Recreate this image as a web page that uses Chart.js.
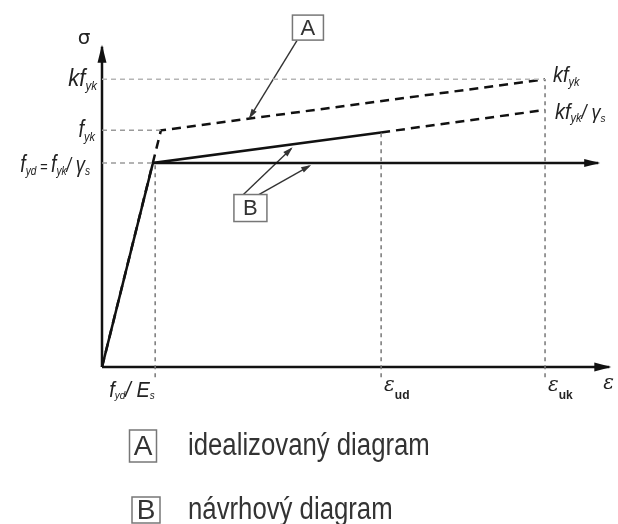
<!DOCTYPE html>
<html>
<head>
<meta charset="utf-8">
<script src="https://cdn.jsdelivr.net/npm/chart.js@4.4.0/dist/chart.umd.min.js"></script>
<style>
  html, body { margin: 0; padding: 0; background: #fff; }
  #wrap { width: 618px; height: 524px; }
</style>
</head>
<body>
<div id="wrap"><canvas id="chart"></canvas></div>
<script>
// values (drawing units: fyd = 1, strain arbitrary)
const idealStrain = [0, 1.33, 10];        // A - idealised diagram
const idealStress = [0, 1.16, 1.41];
const designStrain = [0, 1.15, 6.3];      // B - design diagram, inclined branch
const designStress = [0, 1.0, 1.15];
const designExtStrain = [6.3, 10];        // continuation up to eps_uk
const designExtStress = [1.15, 1.26];
const plateauStrain = [1.15, 11.2];       // B - horizontal branch
const plateauStress = [1.0, 1.0];

// tick positions and the points the guide lines run to
const strainTicks = [1.2, 6.3, 10];
const strainGuideTop = [1.0, 1.15, 1.41];
const stressTicks = [1.41, 1.16, 1.0];
const stressGuideEnd = [10, 1.38, 1.15];

// leader lines from the boxes to the curves
const leaderAStrain = [4.4, 3.34];
const leaderAStress = [1.6, 1.225];
const leaderB1Strain = [3.18, 4.27];
const leaderB1Stress = [0.843, 1.07];
const leaderB2Strain = [3.52, 4.68];
const leaderB2Stress = [0.843, 0.985];

const axisEnd = { x: 11.45, y: 1.57 };

function pts(xs, ys) {
    return xs.map(function(x, i) { return { x: x, y: ys[i] }; });
}

const datasets = [];

function addLine(xs, ys, opts) {
    datasets.push(Object.assign({
        data: pts(xs, ys),
        showLine: true,
        borderColor: '#111',
        borderWidth: 2.5,
        pointRadius: 0,
        fill: false,
        clip: false
    }, opts || {}));
}

// guides
stressTicks.forEach(function(s, i) {
    addLine([0, stressGuideEnd[i]], [s, s], {
        borderColor: i === 0 ? '#b5b5b5' : '#9a9a9a', borderWidth: 1.5, borderDash: [5, 4]
    });
});
strainTicks.forEach(function(e, i) {
    addLine([e, e], [-0.05, strainGuideTop[i]], {
        borderColor: '#777', borderWidth: 1.5, borderDash: [4, 4]
    });
});

// axes
addLine([0, axisEnd.x], [0, 0], { arrow: { len: 15, w: 4.5 } });
addLine([0, 0], [0, axisEnd.y], { arrow: { len: 16, w: 4.5 } });

// diagrams
addLine(idealStrain, idealStress, { borderDash: [9, 6] });
addLine(designStrain, designStress);
addLine(designExtStrain, designExtStress, { borderDash: [9, 6] });
addLine(plateauStrain, plateauStress, { arrow: { len: 14, w: 4 } });

// leaders
[[leaderAStrain, leaderAStress], [leaderB1Strain, leaderB1Stress], [leaderB2Strain, leaderB2Stress]]
    .forEach(function(l) {
        addLine(l[0], l[1], { borderColor: '#333', borderWidth: 1.4, arrow: { len: 8, w: 3 } });
    });

// draw a text made of parts: [text, font, dy]
function rich(ctx, x, y, parts, align, sx, sy) {
    sx = sx || 1; sy = sy || 1;
    let w = 0;
    parts.forEach(function(p) { ctx.font = p[1]; w += ctx.measureText(p[0]).width; });
    ctx.save();
    ctx.translate(x, y);
    ctx.scale(sx, sy);
    let cx = align === 'right' ? -w : (align === 'center' ? -w / 2 : 0);
    ctx.textAlign = 'left';
    ctx.textBaseline = 'alphabetic';
    parts.forEach(function(p) {
        ctx.font = p[1];
        ctx.fillText(p[0], cx, p[2] || 0);
        cx += ctx.measureText(p[0]).width;
    });
    ctx.restore();
}

function box(ctx, cx, cy, w, h, letter, size) {
    ctx.save();
    ctx.fillStyle = '#fff';
    ctx.fillRect(cx - w / 2, cy - h / 2, w, h);
    ctx.strokeStyle = '#777';
    ctx.lineWidth = 1.5;
    ctx.strokeRect(cx - w / 2, cy - h / 2, w, h);
    ctx.fillStyle = '#333';
    ctx.font = size + 'px "Liberation Sans"';
    ctx.textAlign = 'center';
    ctx.textBaseline = 'middle';
    ctx.fillText(letter, cx, cy + 1);
    ctx.restore();
}

const arrowPlugin = {
    id: 'arrows',
    afterDatasetsDraw(chart) {
        const ctx = chart.ctx;
        chart.data.datasets.forEach(function(ds, i) {
            if (!ds.arrow) return;
            const el = chart.getDatasetMeta(i).data;
            const a = el[el.length - 2], b = el[el.length - 1];
            const ang = Math.atan2(b.y - a.y, b.x - a.x);
            ctx.save();
            ctx.translate(b.x, b.y);
            ctx.rotate(ang);
            ctx.fillStyle = ds.borderColor;
            ctx.beginPath();
            ctx.moveTo(2, 0);
            ctx.lineTo(-ds.arrow.len, -ds.arrow.w);
            ctx.lineTo(-ds.arrow.len, ds.arrow.w);
            ctx.closePath();
            ctx.fill();
            ctx.restore();
        });
    }
};

const labelPlugin = {
    id: 'labels',
    afterDraw(chart) {
        const ctx = chart.ctx;
        const X = chart.scales.x, Y = chart.scales.y;
        const it = function(s) { return 'italic ' + s + 'px "Liberation Sans"'; };
        ctx.fillStyle = '#222';

        // sigma
        ctx.font = '20px "DejaVu Sans"';
        ctx.textAlign = 'center';
        ctx.fillText('σ', X.getPixelForValue(0) - 18, Y.getPixelForValue(axisEnd.y) - 3);

        // stress labels on the left
        const lx = X.getPixelForValue(0) - 5;
        rich(ctx, lx, Y.getPixelForValue(stressTicks[0]) + 7,
            [['k', it(21)], ['f', it(21)], ['yk', it(11), 3]], 'right', 1.05, 1.15);
        rich(ctx, lx - 2, Y.getPixelForValue(stressTicks[1]) + 7,
            [['f', it(20)], ['yk', it(11), 3]], 'right', 1, 1.15);
        rich(ctx, lx - 7, Y.getPixelForValue(stressTicks[2]) + 9,
            [['f', it(21)], ['yd', it(11), 3], [' = ', it(14)], ['f', it(21)], ['yk', it(11), 3],
             ['/ ', it(18)], ['γ', it(20)], ['s', it(11), 3]], 'right', 0.92, 1.15);

        // stress labels on the right
        const rx = X.getPixelForValue(strainTicks[2]) + 8;
        rich(ctx, rx, Y.getPixelForValue(stressTicks[0]) + 3,
            [['k', it(20)], ['f', it(20)], ['yk', it(11), 3]], 'left', 1, 1.1);
        rich(ctx, rx + 2, Y.getPixelForValue(designExtStress[1]) + 9,
            [['k', it(20)], ['f', it(20)], ['yk', it(11), 3], ['/ ', it(18)], ['γ', it(18)], ['s', it(10), 3]],
            'left', 1, 1.1);

        // strain labels
        const by = Y.getPixelForValue(0) + 30;
        rich(ctx, X.getPixelForValue(strainTicks[0]) - 46, by,
            [['f', it(20)], ['yd', it(10), 2], ['/ ', it(20)], ['E', it(20)], ['s', it(10), 2]], 'left', 1, 1.1);
        rich(ctx, X.getPixelForValue(strainTicks[1]) + 3, by - 6,
            [['ε', 'italic 20px "DejaVu Serif"'], ['ud', 'bold 12px "Liberation Sans"', 8]], 'left', 1, 1);
        rich(ctx, X.getPixelForValue(strainTicks[2]) + 3, by - 6,
            [['ε', 'italic 20px "DejaVu Serif"'], ['uk', 'bold 12px "Liberation Sans"', 8]], 'left', 1, 1);
        rich(ctx, X.getPixelForValue(axisEnd.x) - 6, by - 8,
            [['ε', 'italic 20px "DejaVu Serif"']], 'left', 1, 1);

        // boxes on the chart
        box(ctx, X.getPixelForValue(leaderAStrain[0]) + 11, Y.getPixelForValue(leaderAStress[0]) - 13, 31, 25, 'A', 22);
        box(ctx, X.getPixelForValue((leaderB1Strain[0] + leaderB2Strain[0]) / 2), Y.getPixelForValue(leaderB1Stress[0]) + 13, 33, 27, 'B', 22);

        // legend
        box(ctx, 143, 446, 27, 32, 'A', 28);
        box(ctx, 146, 510, 28, 26, 'B', 28);
        ctx.fillStyle = '#333';
        rich(ctx, 188, 455, [['idealizovaný diagram', '26px "Liberation Sans"']], 'left', 0.99, 1.2);
        rich(ctx, 188, 519, [['návrhový diagram', '26px "Liberation Sans"']], 'left', 0.99, 1.2);
    }
};

new Chart(document.getElementById('chart'), {
    type: 'scatter',
    data: { datasets: datasets },
    options: {
        responsive: true,
        maintainAspectRatio: false,
        animation: false,
        events: [],
        layout: { padding: { left: 102, right: 6.5, top: 40.6, bottom: 136.6 } },
        scales: {
            x: { type: 'linear', min: 0, max: 11.5, display: false },
            y: { type: 'linear', min: -0.1, max: 1.6, display: false }
        },
        plugins: { legend: { display: false }, tooltip: { enabled: false } }
    },
    plugins: [arrowPlugin, labelPlugin]
});
</script>
</body>
</html>
